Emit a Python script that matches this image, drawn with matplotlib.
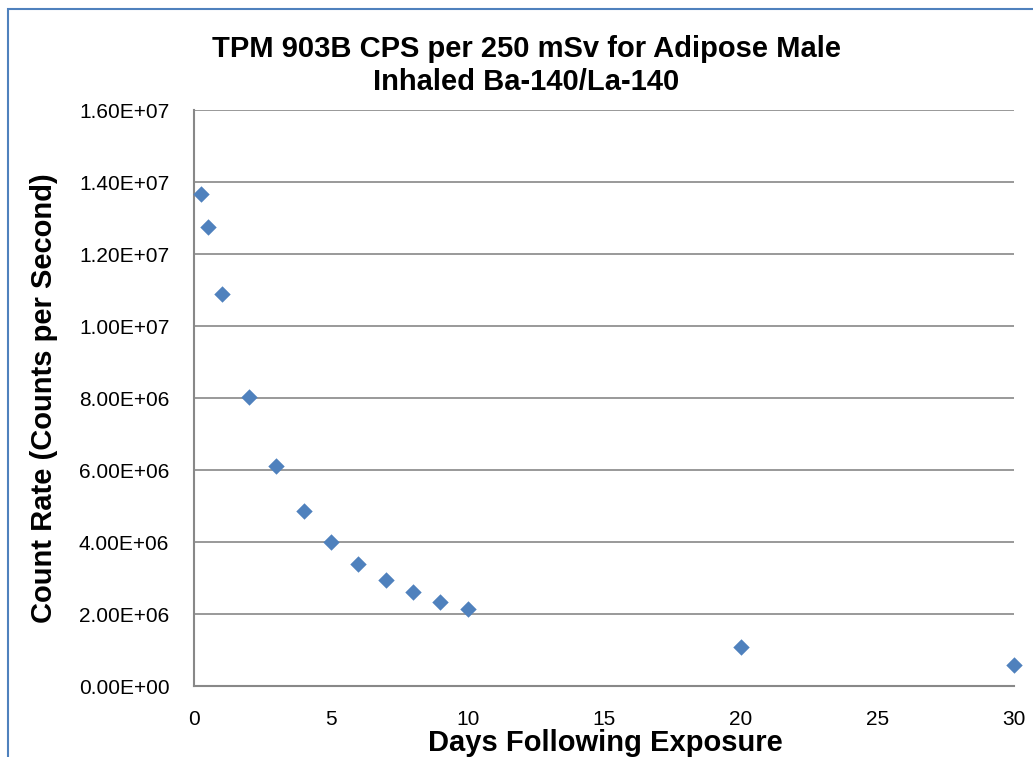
import matplotlib
matplotlib.use("Agg")
import matplotlib.pyplot as plt
from matplotlib.patches import Rectangle

plt.rcParams["font.family"] = ["Liberation Sans", "DejaVu Sans"]

days = [0.25, 0.5, 1, 2, 3, 4, 5, 6, 7, 8, 9, 10, 20, 30]
cps = [1.368e7, 1.274e7, 1.088e7, 8.02e6, 6.11e6, 4.87e6, 3.99e6,
       3.38e6, 2.94e6, 2.60e6, 2.34e6, 2.13e6, 1.07e6, 5.8e5]

title_lines = ["TPM 903B CPS per 250 mSv for Adipose Male", "Inhaled Ba-140/La-140"]
xlabel = "Days Following Exposure"
ylabel = "Count Rate (Counts per Second)"

W, H = 1033, 757
fig = plt.figure(figsize=(W / 100, H / 100), dpi=100)

# chart frame, cut off at right and bottom like the screenshot
fig.patches.append(Rectangle((8 / W, -0.1), 1.2, 1 - 9 / H + 0.1,
                             transform=fig.transFigure, fill=False,
                             edgecolor="#4F81BD", linewidth=1.5))

ax = fig.add_axes([194.3 / W, 71 / H, 820 / W, 576 / H])
ax.scatter(days, cps, marker="D", s=70, color="#4F81BD", zorder=3,
           clip_on=False, linewidths=0)

ax.set_xlim(0, 30)
ax.set_ylim(0, 1.6e7)
ax.set_xticks(range(0, 31, 5))
ax.set_yticks([i * 2e6 for i in range(9)])
ax.set_yticklabels(["%.2fE+%02d" % (v / 10 ** (len(str(int(v))) - 1) if v else 0,
                                    len(str(int(v))) - 1 if v else 0)
                    for v in ax.get_yticks()])
ax.tick_params(length=0, labelsize=15)
ax.tick_params(axis="y", pad=18)
ax.tick_params(axis="x", pad=17)
ax.grid(axis="y", color="#888888", linewidth=1.2)
ax.set_axisbelow(True)
for s in ("top", "right"):
    ax.spines[s].set_visible(False)
for s in ("left", "bottom"):
    ax.spines[s].set_color("#888888")
    ax.spines[s].set_linewidth(1.5)

for line, base in zip(title_lines, (56.7, 90.3)):
    fig.text(526 / W, 1 - base / H, line, ha="center", va="baseline",
             fontsize=21, fontweight="bold")
fig.text(605 / W, 1 - 751 / H, xlabel, ha="center", va="baseline",
         fontsize=21, fontweight="bold")
fig.text(44.5 / W, 1 - 398 / H, ylabel, ha="center", va="center",
         rotation=90, fontsize=21, fontweight="bold")

fig.savefig("out.png", dpi=100)
